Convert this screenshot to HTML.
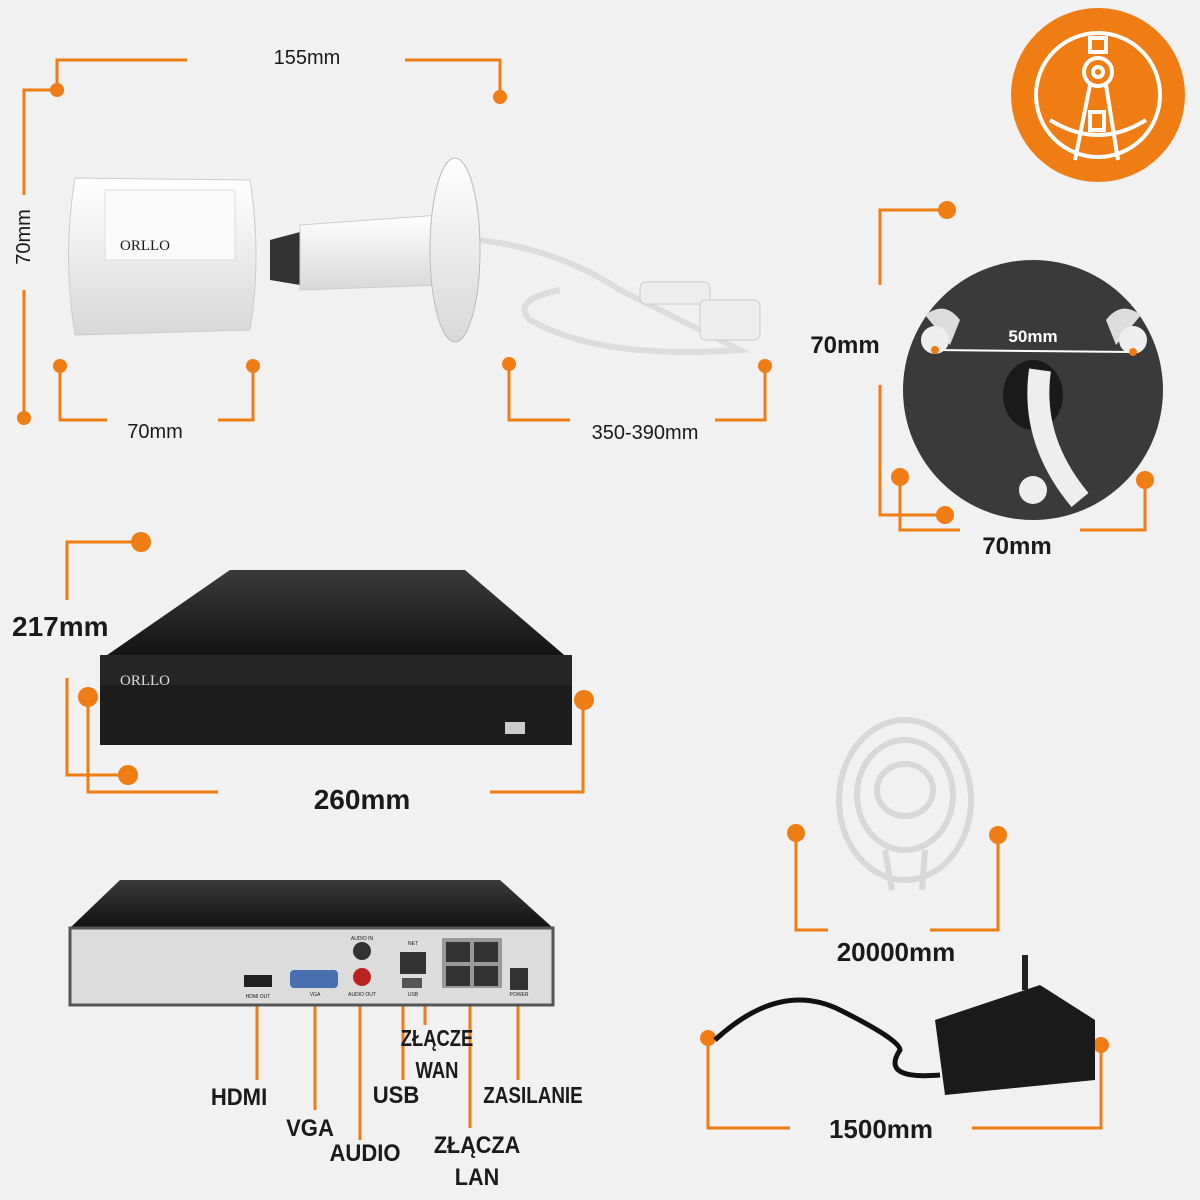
<!DOCTYPE html>
<html><head><meta charset="utf-8"><style>
html,body{margin:0;padding:0;background:#f1f1f1;}
svg{display:block}
text{font-family:"Liberation Sans",sans-serif;fill:#1a1a1a}
</style></head><body>
<svg width="1200" height="1200" viewBox="0 0 1200 1200" xmlns="http://www.w3.org/2000/svg">
<defs>
<linearGradient id="blk" x1="0" y1="0" x2="0" y2="1"><stop offset="0" stop-color="#3a3a3a"/><stop offset="1" stop-color="#111"/></linearGradient>
<linearGradient id="wht" x1="0" y1="0" x2="0" y2="1"><stop offset="0" stop-color="#fff"/><stop offset="1" stop-color="#d8d8d8"/></linearGradient>
</defs>
<rect width="1200" height="1200" fill="#f1f1f1"/>
<g stroke="#f07c14" stroke-width="3" fill="none">
<polyline points="57,90 57,60 187,60"/><polyline points="405,60 500,60 500,97"/>
<polyline points="57,90 24,90 24,195"/><line x1="24" y1="290" x2="24" y2="418"/>
<polyline points="60,366 60,420 107,420"/><polyline points="218,420 253,420 253,366"/>
<polyline points="509,364 509,420 570,420"/><polyline points="715,420 765,420 765,366"/>
<polyline points="947,210 880,210 880,285"/><polyline points="880,385 880,515 945,515"/>
<polyline points="900,477 900,530 960,530"/><polyline points="1080,530 1145,530 1145,480"/>
<polyline points="141,542 67,542 67,600"/><polyline points="67,678 67,775 128,775"/>
<polyline points="88,697 88,792 218,792"/><polyline points="490,792 583,792 583,700"/>
<polyline points="796,833 796,930 828,930"/><polyline points="930,930 998,930 998,835"/>
<polyline points="708,1038 708,1128 790,1128"/><polyline points="972,1128 1101,1128 1101,1045"/>
<line x1="257" y1="985" x2="257" y2="1080"/><line x1="315" y1="985" x2="315" y2="1110"/>
<line x1="360" y1="985" x2="360" y2="1140"/><line x1="403" y1="985" x2="403" y2="1080"/>
<line x1="425" y1="965" x2="425" y2="1025"/><line x1="470" y1="985" x2="470" y2="1128"/>
<line x1="518" y1="985" x2="518" y2="1080"/>
</g>
<g fill="#f07c14">
<circle cx="57" cy="90" r="7"/><circle cx="500" cy="97" r="7"/><circle cx="24" cy="418" r="7"/>
<circle cx="60" cy="366" r="7"/><circle cx="253" cy="366" r="7"/><circle cx="509" cy="364" r="7"/><circle cx="765" cy="366" r="7"/>
<circle cx="947" cy="210" r="9"/><circle cx="945" cy="515" r="9"/><circle cx="900" cy="477" r="9"/><circle cx="1145" cy="480" r="9"/>
<circle cx="141" cy="542" r="10"/><circle cx="128" cy="775" r="10"/><circle cx="88" cy="697" r="10"/><circle cx="584" cy="700" r="10"/>
<circle cx="796" cy="833" r="9"/><circle cx="998" cy="835" r="9"/><circle cx="708" cy="1038" r="8"/><circle cx="1101" cy="1045" r="8"/>
<circle cx="1098" cy="95" r="87"/>
</g>
<g stroke="#fff" stroke-width="4" fill="none">
<circle cx="1098" cy="95" r="62"/>
<rect x="1090" y="38" width="16" height="14"/><circle cx="1098" cy="72" r="14"/><circle cx="1098" cy="72" r="5"/>
<line x1="1090" y1="85" x2="1075" y2="160"/><line x1="1106" y1="85" x2="1118" y2="160"/>
<path d="M1050 120 Q1098 150 1146 120"/><rect x="1090" y="112" width="14" height="18"/>
</g>
<!-- camera -->
<path d="M270 240 L300 232 L300 285 L270 280 Z" fill="#333"/>
<path d="M300 225 L440 215 L440 285 L300 290 Z" fill="url(#wht)" stroke="#ccc"/>
<path d="M480 240 Q560 250 620 290 Q700 330 740 350 Q600 360 530 320 Q510 300 560 290" fill="none" stroke="#ddd" stroke-width="6"/>
<ellipse cx="455" cy="250" rx="25" ry="92" fill="url(#wht)" stroke="#bbb"/>
<path d="M75 178 L250 180 Q262 255 250 330 L75 335 Q62 255 75 178Z" fill="url(#wht)" stroke="#ccc"/>
<rect x="105" y="190" width="130" height="70" fill="#fafafa" stroke="#ddd"/>
<text x="120" y="250" font-size="15" style="font-family:'Liberation Serif',serif">ORLLO</text>
<rect x="640" y="282" width="70" height="22" rx="6" fill="#eee" stroke="#ccc"/>
<rect x="700" y="300" width="60" height="40" rx="6" fill="#eee" stroke="#ccc"/>
<text x="307" y="64" font-size="20" text-anchor="middle">155mm</text>
<text x="155" y="438" font-size="20" text-anchor="middle">70mm</text>
<text x="645" y="439" font-size="20" text-anchor="middle">350-390mm</text>
<text transform="translate(30,237) rotate(-90)" font-size="20" text-anchor="middle">70mm</text>
<!-- disc -->
<circle cx="1033" cy="390" r="130" fill="#3a3a3a"/>
<path d="M925 315 Q945 300 960 320 L950 345 Z" fill="#ddd"/>
<path d="M1141 315 Q1121 300 1106 320 L1116 345 Z" fill="#ddd"/>
<ellipse cx="1033" cy="395" rx="30" ry="35" fill="#1a1a1a"/>
<path d="M1040 370 Q1030 440 1080 500" stroke="#eee" stroke-width="22" fill="none"/>
<circle cx="935" cy="340" r="14" fill="#eee"/><circle cx="1133" cy="340" r="14" fill="#eee"/><circle cx="1033" cy="490" r="14" fill="#eee"/>
<line x1="935" y1="350" x2="1133" y2="352" stroke="#fff" stroke-width="2"/>
<circle cx="935" cy="350" r="4" fill="#f07c14"/><circle cx="1133" cy="352" r="4" fill="#f07c14"/>
<text x="1033" y="342" font-size="17" font-weight="bold" text-anchor="middle" style="fill:#fff">50mm</text>
<text x="845" y="353" font-size="24" font-weight="bold" text-anchor="middle">70mm</text>
<text x="1017" y="554" font-size="24" font-weight="bold" text-anchor="middle">70mm</text>
<!-- nvr front -->
<path d="M230 570 L465 570 L570 660 L100 660 Z" fill="url(#blk)"/>
<rect x="100" y="655" width="472" height="90" fill="#1c1c1c"/>
<rect x="100" y="655" width="472" height="30" fill="#262626"/>
<text x="120" y="685" font-size="15" style="fill:#ddd;font-family:'Liberation Serif',serif">ORLLO</text>
<rect x="505" y="722" width="20" height="12" fill="#ccc"/>
<text x="12" y="636" font-size="28" font-weight="bold">217mm</text>
<text x="362" y="809" font-size="28" font-weight="bold" text-anchor="middle">260mm</text>
<!-- nvr back -->
<path d="M120 880 L500 880 L553 928 L70 928 Z" fill="url(#blk)"/>
<rect x="70" y="928" width="483" height="77" fill="#dcdcdc" stroke="#555" stroke-width="3"/>
<rect x="244" y="975" width="28" height="12" fill="#222"/>
<rect x="290" y="970" width="48" height="18" rx="4" fill="#4a6fb0"/>
<circle cx="362" cy="951" r="9" fill="#333"/><circle cx="362" cy="977" r="9" fill="#b22"/>
<rect x="400" y="952" width="26" height="22" fill="#333"/><rect x="402" y="978" width="20" height="10" fill="#555"/>
<rect x="442" y="938" width="60" height="50" fill="#999"/>
<rect x="446" y="942" width="24" height="20" fill="#333"/><rect x="474" y="942" width="24" height="20" fill="#333"/>
<rect x="446" y="966" width="24" height="20" fill="#333"/><rect x="474" y="966" width="24" height="20" fill="#333"/>
<rect x="510" y="968" width="18" height="22" fill="#333"/>
<g font-size="5" text-anchor="middle">
<text x="258" y="998">HDMI OUT</text><text x="315" y="996">VGA</text><text x="362" y="940">AUDIO IN</text><text x="362" y="996">AUDIO OUT</text><text x="413" y="945">NET</text><text x="413" y="996">USB</text><text x="519" y="996">POWER</text>
</g>
<g font-size="24" font-weight="bold" text-anchor="middle">
<text transform="translate(239,1105) scale(0.92,1)">HDMI</text>
<text transform="translate(310,1136) scale(0.92,1)">VGA</text>
<text transform="translate(365,1161) scale(0.92,1)">AUDIO</text>
<text transform="translate(396,1103) scale(0.92,1)">USB</text>
<text transform="translate(437,1046) scale(0.8,1)" font-size="23">ZŁĄCZE</text>
<text transform="translate(437,1078) scale(0.8,1)" font-size="23">WAN</text>
<text transform="translate(533,1103) scale(0.82,1)" font-size="23">ZASILANIE</text>
<text transform="translate(477,1153) scale(0.9,1)">ZŁĄCZA</text>
<text transform="translate(477,1185) scale(0.9,1)">LAN</text>
</g>
<!-- coil -->
<g fill="none" stroke="#d8d8d8" stroke-width="6">
<ellipse cx="905" cy="800" rx="66" ry="80"/><ellipse cx="905" cy="795" rx="48" ry="55"/><ellipse cx="905" cy="790" rx="28" ry="26"/>
<path d="M885 850 L892 890 M925 850 L922 890"/>
</g>
<text x="896" y="961" font-size="26" font-weight="bold" text-anchor="middle">20000mm</text>
<!-- adapter -->
<path d="M715 1040 Q780 980 840 1010 Q900 1040 900 1050 Q880 1080 940 1075" fill="none" stroke="#111" stroke-width="5"/>
<path d="M935 1020 L1040 985 L1095 1020 L1095 1080 L945 1095 Z" fill="#1a1a1a"/>
<line x1="1025" y1="955" x2="1025" y2="990" stroke="#222" stroke-width="6"/>
<text x="881" y="1138" font-size="26" font-weight="bold" text-anchor="middle">1500mm</text>
</svg>
</body></html>
